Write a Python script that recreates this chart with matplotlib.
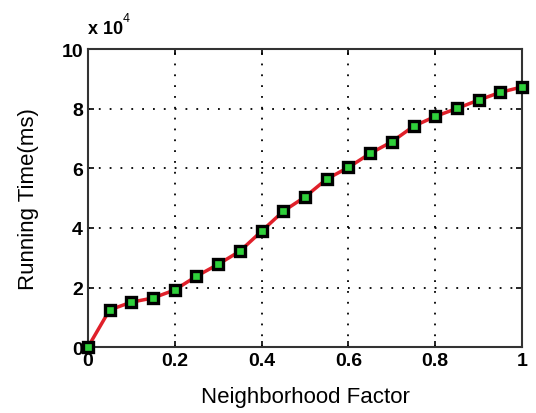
import matplotlib
matplotlib.use("Agg")
import matplotlib.pyplot as plt

plt.rcParams['font.family'] = ['Liberation Sans', 'DejaVu Sans']

# neighborhood factor vs running time (in units of 1e4 ms)
factor = [0.0, 0.05, 0.1, 0.15, 0.2, 0.25, 0.3, 0.35, 0.4, 0.45, 0.5,
          0.55, 0.6, 0.65, 0.7, 0.75, 0.8, 0.85, 0.9, 0.95, 1.0]
run_time = [0.0, 1.25, 1.51, 1.65, 1.92, 2.38, 2.78, 3.22, 3.89, 4.56, 5.04,
            5.64, 6.03, 6.5, 6.89, 7.41, 7.74, 8.01, 8.29, 8.55, 8.73]
x_ticks = [0, 0.2, 0.4, 0.6, 0.8, 1]
x_labels = ['0', '0.2', '0.4', '0.6', '0.8', '1']
y_ticks = [0, 2, 4, 6, 8, 10]
y_labels = ['0', '2', '4', '6', '8', '10']

fig = plt.figure(figsize=(5.36, 4.14), dpi=100)
ax = fig.add_axes([0.164, 0.159, 0.81, 0.72])

ax.plot(factor, run_time, color='#e0202a', linewidth=2.5,
        marker='s', markersize=6.5, markerfacecolor='#2fd03a',
        markeredgecolor='black', markeredgewidth=2.4, clip_on=False, zorder=5)

ax.set_xlim(0, 1)
ax.set_ylim(0, 10)
ax.set_xticks(x_ticks)
ax.set_xticklabels(x_labels)
ax.set_yticks(y_ticks)
ax.set_yticklabels(y_labels)
ax.tick_params(direction='in', top=True, right=True, labelsize=14, length=4, width=1.2)
for t in ax.get_xticklabels() + ax.get_yticklabels():
    t.set_fontweight('bold')
ax.grid(True, linestyle=(0, (1, 5)), color='black', linewidth=1.3)
for s in ax.spines.values():
    s.set_linewidth(1.5)
    s.set_color('#333333')

ax.set_xlabel('Neighborhood Factor', fontsize=16, labelpad=12)
ax.set_ylabel('Running Time(ms)', fontsize=16, labelpad=16)
ax.text(0.0, 1.04, 'x 10', transform=ax.transAxes, fontsize=13,
        fontweight='bold', ha='left', va='bottom')
ax.text(0.08, 1.085, '4', transform=ax.transAxes, fontsize=9,
        ha='left', va='bottom')

fig.savefig('out.png', dpi=100)
